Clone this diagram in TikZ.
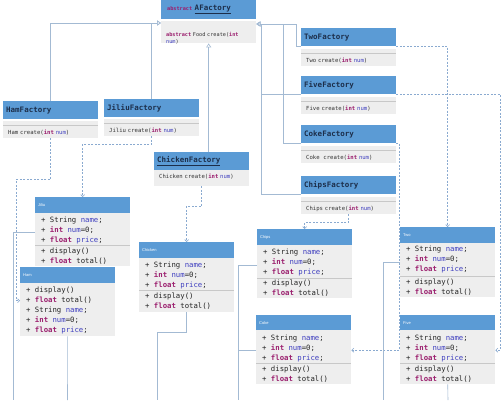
\documentclass[tikz,border=0pt]{standalone}
\usepackage{fontspec}
\setmonofont{DejaVu Sans Mono}
\setsansfont{Liberation Sans}
\usetikzlibrary{arrows.meta}

\definecolor{hblue}{HTML}{5B9BD5}
\definecolor{bgray}{HTML}{EEEEEE}
\definecolor{sepc}{HTML}{C8C8C8}
\definecolor{kwc}{HTML}{9B1F6E}
\definecolor{vnc}{HTML}{3F3FBF}
\definecolor{navy}{HTML}{1C2E4A}
\definecolor{lnc}{HTML}{A3BAD3}
\definecolor{dpc}{HTML}{8AAAD0}

\newcommand{\kw}[1]{\textcolor{kwc}{\bfseries #1}}
\newcommand{\vn}[1]{\textcolor{vnc}{#1}}
\newcommand{\attrs}{+ String \vn{name};\\+ \kw{int} \vn{num}=0;\\+ \kw{float} \vn{price};}
\newcommand{\meths}{+ display()\\+ \kw{float} total()}

\begin{document}
\begin{tikzpicture}[x=1pt,y=-1pt,
	fhead/.style={anchor=north west, fill=hblue, inner xsep=3pt, text width=89pt, align=left, minimum height=18pt, font=\ttfamily\bfseries\fontsize{7.5}{9}\selectfont, text=navy},
	fbody/.style={anchor=north west, fill=bgray, inner xsep=5pt, text width=85pt, align=left, minimum height=16pt, text height=4pt, text depth=4pt, font=\ttfamily\fontsize{5.6}{7}\selectfont, text=black!80},
	fbodys/.style={fbody, inner ysep=2pt, text height=11pt, text depth=2pt, path picture={\draw[sepc] ([yshift=-4pt]path picture bounding box.north west) -- ([yshift=-4pt]path picture bounding box.north east);}},
	chead/.style={anchor=north west, fill=hblue, inner xsep=3pt, text width=89pt, align=left, minimum height=16pt, font=\sffamily\fontsize{4}{5}\selectfont, text=white},
	cbody/.style={anchor=north west, fill=bgray, minimum width=95pt, inner sep=0pt},
	mem/.style={anchor=north west, inner sep=0pt, align=left, font=\ttfamily\fontsize{7.3}{10}\selectfont, text=black!85},
	gen/.style={draw=lnc, line width=0.6pt, -{Triangle[open,length=4pt,width=5pt]}},
	dep/.style={draw=dpc, line width=0.6pt, dash pattern=on 2pt off 1.5pt, -{Straight Barb[length=2pt,width=4pt]}},
	ln/.style={draw=lnc, line width=0.6pt}]

	\fill[white] (0,0) rectangle (501,400);
	\useasboundingbox (0,0) rectangle (501,400);

	\node[fhead, minimum height=19pt, inner xsep=6pt, text width=83pt] (afac) at (161,0) {{\fontsize{5.2}{6}\selectfont\color{kwc}abstract}~\underline{AFactory}};
	\node[fbody, minimum height=22pt] (afacb) at (161,21) {};
	\node[fbody, fill=none, text height=3pt, text depth=1pt, font=\ttfamily\fontsize{5.2}{7}\selectfont] (afact) at (161,27) {\kw{abstract} Food create(\kw{int}\\\vn{num})};

	\node[fhead] (twoF) at (301,28) {TwoFactory};
	\node[fbodys] (twoFb) at (301,49) {Two create(\kw{int} \vn{num})};
	\node[fhead] (fiveF) at (301,76) {FiveFactory};
	\node[fbodys] (fiveFb) at (301,97) {Five create(\kw{int} \vn{num})};
	\node[fhead] (cokeF) at (301,125) {CokeFactory};
	\node[fbodys] (cokeFb) at (301,146) {Coke~~create(\kw{int} \vn{num})};
	\node[fhead] (chipsF) at (301,176) {ChipsFactory};
	\node[fbodys] (chipsFb) at (301,197) {Chips create(\kw{int} \vn{num})};
	\node[fhead] (hamF) at (3,101) {HamFactory};
	\node[fbodys] (hamFb) at (3,121) {Ham create(\kw{int} \vn{num})};
	\node[fhead] (jiliuF) at (104,99) {JiliuFactory};
	\node[fbodys] (jiliuFb) at (104,119) {Jiliu create(\kw{int} \vn{num})};
	\node[fhead] (chickF) at (154,152) {\underline{ChickenFactory}};
	\node[fbody] (chickFb) at (154,170) {Chicken create(\kw{int} \vn{num})};

	\node[chead] (jiliu) at (35,197) {Jiliu};
	\node[cbody, minimum height=53pt] (jiliub) at (35,213) {};
	\node[mem] (jiliuA) at (41,216.5) {\attrs};
	\draw[sepc] ([yshift=-32pt]jiliub.north west) -- ([yshift=-32pt]jiliub.north east);
	\node[mem] (jiliuM) at (41,247.5) {\meths};

	\node[chead] (ham) at (20,267) {Ham};
	\node[cbody, minimum height=53pt] (hamb) at (20,283) {};
	\node[mem] (hamM) at (26,286.5) {\meths\\\attrs};

	\node[chead] (chick) at (139,242) {Chicken};
	\node[cbody, minimum height=54pt] (chickb) at (139,258) {};
	\node[mem] (chickA) at (145,261.5) {\attrs};
	\draw[sepc] ([yshift=-32pt]chickb.north west) -- ([yshift=-32pt]chickb.north east);
	\node[mem] (chickM) at (145,292.5) {\meths};

	\node[chead] (chips) at (257,229) {Chips};
	\node[cbody, minimum height=53pt] (chipsb) at (257,245) {};
	\node[mem] (chipsA) at (263,248.5) {\attrs};
	\draw[sepc] ([yshift=-33pt]chipsb.north west) -- ([yshift=-33pt]chipsb.north east);
	\node[mem] (chipsM) at (263,280) {\meths};

	\node[chead] (two) at (400,227) {Two};
	\node[cbody, minimum height=54pt] (twob) at (400,243) {};
	\node[mem] (twoA) at (406,245.5) {\attrs};
	\draw[sepc] ([yshift=-33pt]twob.north west) -- ([yshift=-33pt]twob.north east);
	\node[mem] (twoM) at (406,278.5) {\meths};

	\node[chead] (coke) at (256,315) {Coke};
	\node[cbody, minimum height=54pt] (cokeb) at (256,330) {};
	\node[mem] (cokeA) at (262,334.5) {\attrs};
	\draw[sepc] ([yshift=-33pt]cokeb.north west) -- ([yshift=-33pt]cokeb.north east);
	\node[mem] (cokeM) at (262,365.5) {\meths};

	\node[chead] (five) at (400,315) {Five};
	\node[cbody, minimum height=54pt] (fiveb) at (400,330) {};
	\node[mem] (fiveA) at (406,334.5) {\attrs};
	\draw[sepc] ([yshift=-33pt]fiveb.north west) -- ([yshift=-33pt]fiveb.north east);
	\node[mem] (fiveM) at (406,365.5) {\meths};

	\coordinate (aleft) at ([yshift=-2pt]afacb.north west);
	\coordinate (aright) at ([yshift=-3pt]afacb.north east);

	\draw[gen] (hamF.north) |- (aleft);
	\draw[gen] (jiliuF.north) |- (aleft);
	\draw[gen] ([xshift=7pt]chickF.north) -- ([xshift=7pt]chickF.north |- afacb.south);
	\draw[gen] (twoF.south west) -- ++(-5,0) |- (aright);
	\draw[gen] (cokeF.south west) -- ++(-18,0) |- (aright);
	\draw[gen] (fiveF.south west) -- ++(-40,0) |- (aright);
	\draw[gen] (chipsF.south west) -- ++(-40,0) |- (aright);

	\draw[dep] (hamFb.south) -- ++(0,41) -- ++(-34,0) |- ([yshift=9pt]hamb.west);
	\draw[dep] (jiliuFb.south) -- ++(0,8) -| (jiliu.north);
	\draw[dep] (chickFb.south) -- ++(0,20) -| (chick.north);
	\draw[dep] (chipsFb.south) -- ++(0,8) -| (chips.north);
	\draw[dep] (twoF.south east) -| (two.north);
	\draw[dep] (fiveF.south east) -- ++(104,0) |- ([yshift=7pt]fiveb.east);
	\draw[dep] (cokeF.south east) -- ++(3,0) |- ([yshift=7pt]cokeb.east);

	\coordinate (jiliuOut) at (13,400);
	\coordinate (hamOut) at (67.5,400);
	\coordinate (chickOut) at (157,400);
	\coordinate (foodOut) at (238,400);
	\coordinate (twoOut) at (383,400);
	\coordinate (fiveOut) at (448,400);

	\draw[ln] ([yshift=7pt]jiliub.west) -| (jiliuOut);
	\draw[ln] (hamb.south) -- (hamOut);
	\draw[ln] (chickb.south) -- ++(0,20) -| (chickOut);
	\draw[ln] ([yshift=6pt]chipsb.west) -| (foodOut);
	\draw[ln] ([yshift=7pt]cokeb.west) -| (foodOut);
	\draw[ln] ([yshift=8pt]twob.west) -| (twoOut);
	\draw[ln] (fiveb.south) -- (fiveOut);

\end{tikzpicture}
\end{document}
